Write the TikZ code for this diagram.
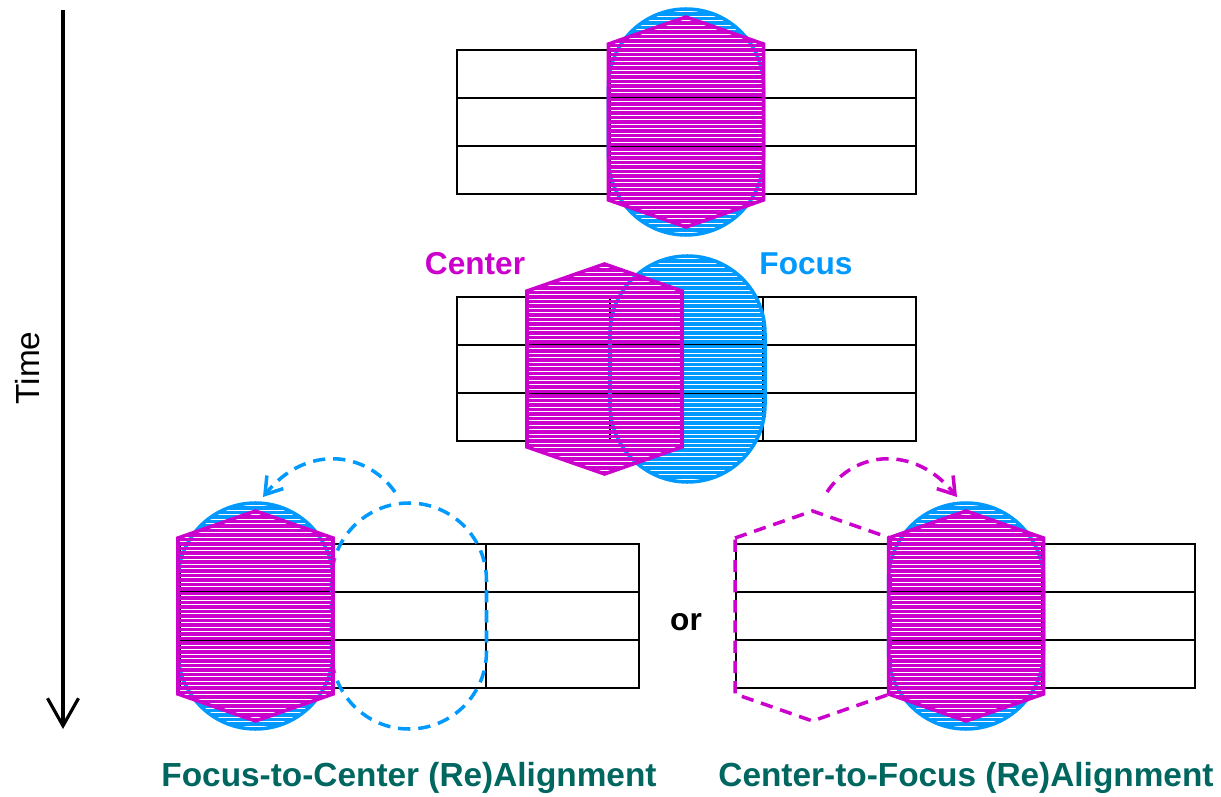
\documentclass[tikz,border=0pt]{standalone}
\usepackage{fontspec}
\setmainfont{Liberation Sans}
\usepackage{tikz}
\usetikzlibrary{positioning,arrows.meta}

\definecolor{ctrmag}{RGB}{204,0,204}
\definecolor{focblue}{RGB}{0,153,255}
\definecolor{capteal}{RGB}{0,102,96}

\begin{document}
\begin{tikzpicture}[x=0.02cm, y=-0.02cm,
  gridcell/.style={draw, line width=1.1pt},
  strokes/.style={draw=#1, line width=1.8pt},
  focpill/.style={draw=focblue, line width=2pt, rounded corners=1.55cm},
  ctrhex/.style={draw=ctrmag, line width=2pt},
  ghost/.style={draw=#1, line width=2pt, dash pattern=on 7pt off 4.5pt},
  realign/.style={ghost=#1, -{Straight Barb[length=0.32cm, width=0.42cm]}},
  lbl/.style={font=\fontsize{18}{20}\selectfont\bfseries, anchor=base},
  captxt/.style={font=\fontsize{19}{22}\selectfont\bfseries, text=capteal, anchor=base}]
  \useasboundingbox (0,0) rectangle (1221,797);

  % time axis
  \coordinate (t0) at (63,10);
  \coordinate (t1) at (63,729);
  \draw[line width=1.8pt, -{Straight Barb[length=0.55cm, width=0.62cm]}] (t0) -- (t1);
  \node[rotate=90, font=\fontsize{19}{22}\selectfont] (time) at (28,368) {Time};

  % tracks, 3x3 cells each
  \foreach \gx/\gy in {457/50, 457/297, 180/544, 736/544}
    \foreach \i in {0,1,2}
      \foreach \j in {0,1,2}
        \draw[gridcell] (\gx+153*\i,\gy+48*\j) rectangle ++(153,48);

  % where focus / center were before
  \draw[ghost=focblue, rounded corners=1.55cm] (331.5,503) rectangle (486.5,729);
  \draw[ghost=ctrmag] (735,538) -- (812.5,511) -- (890,538) -- (890,694) -- (812.5,721) -- (735,694) -- cycle;

  % focus regions, hatched
  \foreach \px/\py in {686/122, 687.5/369, 255.5/616, 966/616} {
    \begin{scope}
      \clip[rounded corners=1.55cm] (\px-77.5,\py-113) rectangle (\px+77.5,\py+113);
      \foreach \k in {-25,...,25}
        \draw[strokes=focblue] (\px-80,\py+4.5*\k) -- (\px+80,\py+4.5*\k);
    \end{scope}
    \draw[focpill] (\px-77.5,\py-113) rectangle (\px+77.5,\py+113);
  }

  % center regions, hatched
  \foreach \cx/\cy in {686/122, 604.5/369, 255.5/616, 966/616} {
    \begin{scope}
      \clip (\cx-77.5,\cy-78) -- (\cx,\cy-105) -- (\cx+77.5,\cy-78)
        -- (\cx+77.5,\cy+78) -- (\cx,\cy+105) -- (\cx-77.5,\cy+78) -- cycle;
      \foreach \k in {-24,...,24}
        \draw[strokes=ctrmag] (\cx-80,\cy+4.5*\k) -- (\cx+80,\cy+4.5*\k);
    \end{scope}
    \draw[ctrhex] (\cx-77.5,\cy-78) -- (\cx,\cy-105) -- (\cx+77.5,\cy-78)
      -- (\cx+77.5,\cy+78) -- (\cx,\cy+105) -- (\cx-77.5,\cy+78) -- cycle;
  }

  % realignment moves
  \coordinate (fcfrom) at (395,492);
  \coordinate (fcto) at (263,497);
  \draw[realign=focblue] (fcfrom) .. controls (365,450) and (305,445) .. (fcto);
  \coordinate (cffrom) at (827,492);
  \coordinate (cfto) at (957,497);
  \draw[realign=ctrmag] (cffrom) .. controls (855,450) and (915,445) .. (cfto);

  \node[lbl, text=ctrmag] (ctrlbl) at (475,275) {Center};
  \node[lbl, text=focblue] (foclbl) at (806,275) {Focus};
  \node[lbl] (orlbl) at (686,630) {or};
  \node[captxt] (fccap) at (409,786) {Focus-to-Center (Re)Alignment};
  \node[captxt] (cfcap) at (966,786) {Center-to-Focus (Re)Alignment};
\end{tikzpicture}
\end{document}
